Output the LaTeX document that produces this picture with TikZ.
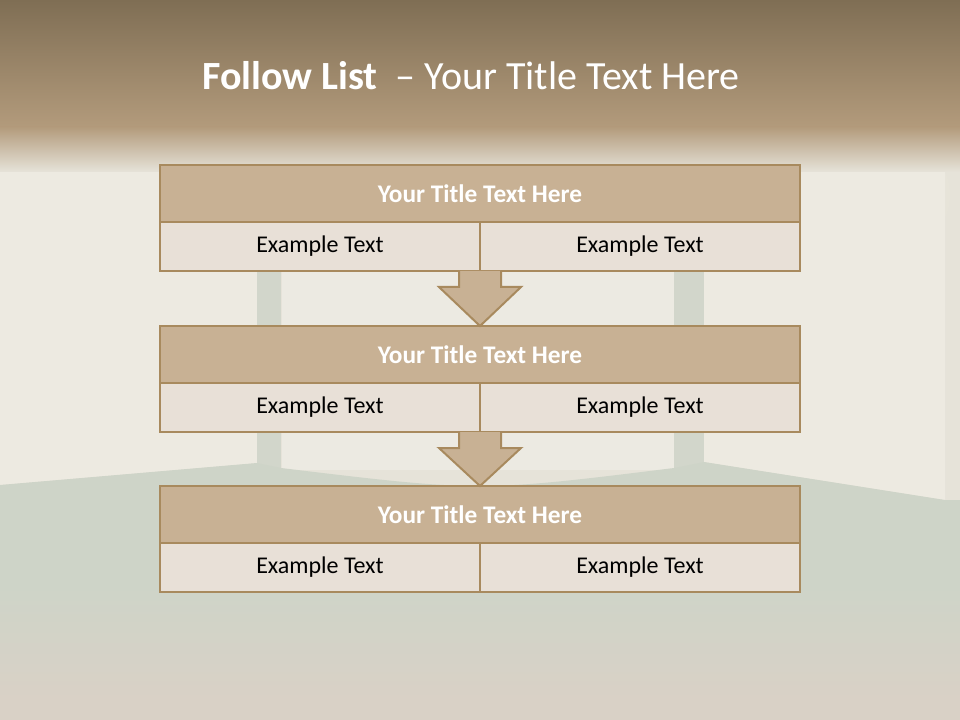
\documentclass[tikz,border=0pt]{standalone}
\usepackage{fontspec}
\setmainfont{Carlito}
\usetikzlibrary{calc}
\definecolor{bandfill}{HTML}{C8B194}
\definecolor{edge}{HTML}{A88A5E}
\definecolor{cellfill}{HTML}{E8E0D7}
\definecolor{topA}{HTML}{7F6E54}
\definecolor{topB}{HTML}{B39B7C}
\definecolor{wall}{HTML}{E6E3D9}
\definecolor{wallL}{HTML}{EDEAE1}
\definecolor{glow}{HTML}{FBF4E2}
\definecolor{pillar}{HTML}{D2D6CB}
\definecolor{floorA}{HTML}{CED4C8}
\definecolor{floorB}{HTML}{D9D1C6}
\begin{document}
\begin{tikzpicture}[x=0.75pt,y=-0.75pt,
  band/.style={draw=edge,line width=2pt,fill=bandfill,minimum width=480pt,minimum height=42.75pt,inner sep=0pt,outer sep=0pt,text=white,font=\fontsize{19}{22}\selectfont\bfseries},
  cell/.style={draw=edge,line width=2pt,fill=cellfill,minimum width=240pt,minimum height=36.75pt,inner sep=0pt,outer sep=0pt,text=black,font=\fontsize{18}{21}\selectfont},
  blockarrow/.style={draw=edge,line width=1.5pt,fill=bandfill,line join=miter}]
\useasboundingbox (0,0) rectangle (960,720);
% background
\fill[wall] (0,0) rectangle (960,720);
\fill[wallL] (0,150) -- (258,175) -- (258,463) -- (0,485) -- cycle;
\fill[wallL] (704,175) -- (945,140) -- (945,500) -- (704,462) -- cycle;
\foreach \r in {100,92,...,20}{
  \fill[glow,opacity=0.07] (130,200) ellipse ({\r*1.2} and {\r*0.8});
  \fill[glow,opacity=0.07] (830,195) ellipse ({\r*1.2} and {\r*0.8});
}
\fill[white,opacity=0.25] (282,270) rectangle (675,470);
\fill[pillar] (257,270) rectangle (281,480);
\fill[pillar] (674,270) rectangle (704,470);
\fill[floorA] (0,485) -- (257,463) -- (281,468) .. controls (480,492) .. (674,468) -- (704,462) -- (945,500) -- (960,500) -- (960,720) -- (0,720) -- cycle;
\fill[top color=floorA,bottom color=floorB] (0,585) rectangle (960,700);
\fill[floorB] (0,699) rectangle (960,720);
\fill[top color=topA,bottom color=topB] (0,0) rectangle (960,128);
\fill[top color=topB,bottom color=wall] (0,127) rectangle (960,172);
% title
\node (title) at (471,76) {\fontsize{30}{34}\selectfont\color{white}\textbf{Follow List}\ \ – Your Title Text Here};
% boxes
\node[band] (t1) at (480,193.5) {Your Title Text Here};
\node[cell,anchor=north west] (c1l) at (t1.south west) {Example Text};
\node[cell,anchor=north east] (c1r) at (t1.south east) {Example Text};
\node[band] (t2) at (480,354.5) {Your Title Text Here};
\node[cell,anchor=north west] (c2l) at (t2.south west) {Example Text};
\node[cell,anchor=north east] (c2r) at (t2.south east) {Example Text};
\node[band] (t3) at (480,514.5) {Your Title Text Here};
\node[cell,anchor=north west] (c3l) at (t3.south west) {Example Text};
\node[cell,anchor=north east] (c3r) at (t3.south east) {Example Text};
% arrows
\foreach \a/\b in {c1l/t2,c2l/t3}{
  \draw[blockarrow] ($(\a.south east)+(-21,0)$) -- ($(\a.south east)+(-21,16)$) -- ($(\a.south east)+(-41,16)$)
    -- (\b.north) -- ($(\a.south east)+(41,16)$) -- ($(\a.south east)+(21,16)$) -- ($(\a.south east)+(21,0)$);
}
\end{tikzpicture}
\end{document}
